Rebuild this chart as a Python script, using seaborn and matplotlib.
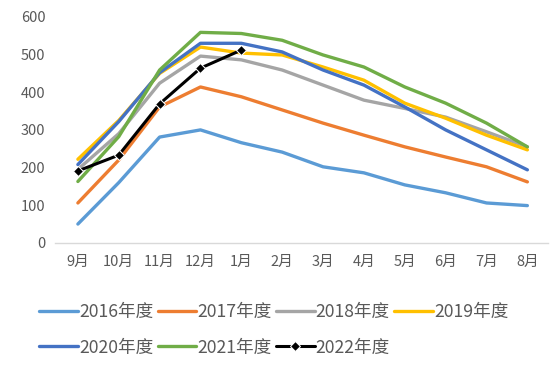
import matplotlib
matplotlib.use("Agg")
import matplotlib.pyplot as plt
import pandas as pd
import seaborn as sns

# months of the season (Sep - Aug)
months = ["9月", "10月", "11月", "12月", "1月", "2月", "3月", "4月", "5月", "6月", "7月", "8月"]

s2016 = [50, 160, 281, 300, 266, 241, 202, 186, 154, 133, 106, 99]
s2017 = [106, 220, 361, 414, 388, 353, 318, 286, 255, 228, 202, 162]
s2018 = [195, 290, 424, 496, 486, 459, 419, 379, 357, 334, 295, 255]
s2019 = [222, 325, 450, 520, 504, 499, 467, 432, 371, 331, 286, 247]
s2020 = [208, 322, 452, 530, 530, 507, 459, 419, 361, 300, 247, 194]
s2021 = [163, 282, 459, 559, 556, 538, 499, 467, 414, 371, 318, 255]
s2022 = [191, 233, 369, 464, 512]

series = {
    "2016年度": s2016,
    "2017年度": s2017,
    "2018年度": s2018,
    "2019年度": s2019,
    "2020年度": s2020,
    "2021年度": s2021,
    "2022年度": s2022,
}
colors = {
    "2016年度": "#5B9BD5",
    "2017年度": "#ED7D31",
    "2018年度": "#A5A5A5",
    "2019年度": "#FFC000",
    "2020年度": "#4472C4",
    "2021年度": "#70AD47",
    "2022年度": "#000000",
}

rows = []
for name, vals in series.items():
    for i, v in enumerate(vals):
        rows.append({"season": name, "x": i, "value": v})
df = pd.DataFrame(rows)

sns.set_style("white")
plt.rcParams["font.family"] = ["Noto Sans CJK SC", "DejaVu Sans"]

fig = plt.figure(figsize=(5.5, 3.68), dpi=100)
ax = fig.add_axes([0.1, 0.34, 0.896, 0.614])

for name in series:
    sub = df[df["season"] == name]
    if name == "2022年度":
        sns.lineplot(data=sub, x="x", y="value", ax=ax, color=colors[name],
                     lw=2.2, marker="D", markersize=5, label=name, zorder=5)
    else:
        sns.lineplot(data=sub, x="x", y="value", ax=ax, color=colors[name],
                     lw=2.4, label=name)

ax.set_xlim(-0.56, 11.5)
ax.set_ylim(0, 600)
ax.set_yticks(range(0, 601, 100))
ax.set_xticks(range(len(months)))
ax.set_xticklabels(months)
ax.set_xlabel("")
ax.set_ylabel("")
for side in ["top", "right", "left"]:
    ax.spines[side].set_visible(False)
ax.spines["bottom"].set_color("#D9D9D9")
ax.spines["bottom"].set_linewidth(1)
ax.tick_params(axis="both", length=0, labelsize=10.5, colors="#595959")
ax.tick_params(axis="x", pad=9)
ax.tick_params(axis="y", pad=7)

# legend is filled column by column, so reorder to get rows of 4 + 3
handles, labels = ax.get_legend_handles_labels()
order = [0, 4, 1, 5, 2, 6, 3]
ax.legend([handles[i] for i in order], [labels[i] for i in order],
          loc="upper center", bbox_to_anchor=(0.444, -0.195), ncol=4, frameon=False,
          fontsize=12.7, handlelength=2.2, handletextpad=0.05, columnspacing=0.25,
          labelspacing=1.0, labelcolor="#595959")

fig.savefig("out.png", dpi=100)
